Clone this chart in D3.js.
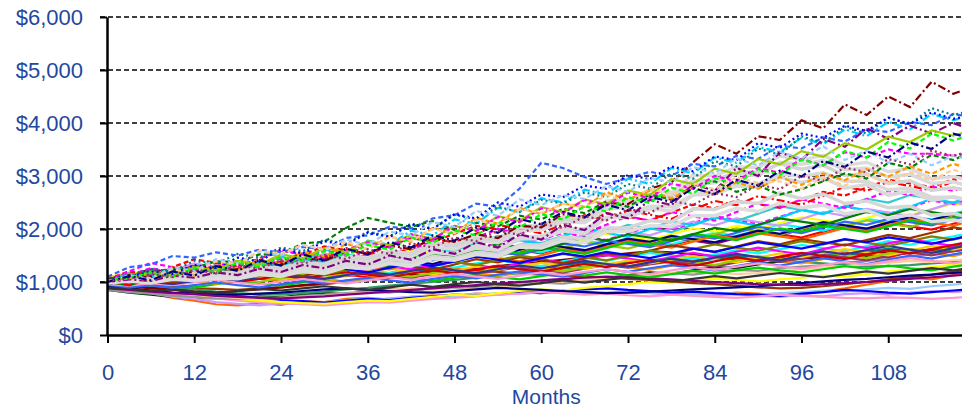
<!DOCTYPE html>
<html><head><meta charset="utf-8">
<script src="https://cdn.jsdelivr.net/npm/d3@7"></script>
<style>body{margin:0;background:#fff}svg{display:block}</style>
</head><body>
<svg id="chart" width="962" height="408"></svg>
<script>
// ---- data ----
const months = [0,3,6,9,12,15,18,21,24,27,30,33,36,39,42,45,48,51,54,57,60,63,66,69,72,75,78,81,84,87,90,93,96,99,102,105,108,111,114,117,120];
const yTicks = [0,1000,2000,3000,4000,5000,6000];
const xTicks = [0,12,24,36,48,60,72,84,96,108];
const xTitle = "Months";

// low paths
const A01 = [900,840,790,700,650,580,560,600,570,640,620,680,700,670,720,750,730,780,760,800,820,790,810,780,800,830,790,770,760,800,780,750,770,820,880,950,1020,1080,1050,1130,1180];
const A02 = [850,800,760,720,690,700,680,730,710,760,790,770,820,860,840,890,930,910,960,1000,980,1040,1090,1070,1130,1180,1160,1220,1280,1260,1330,1390,1370,1440,1500,1480,1550,1610,1590,1660,1720];
const A03 = [900,850,790,720,680,620,590,560,600,580,620,650,640,690,720,700,750,780,760,800,790,820,800,780,810,790,760,780,750,770,740,720,750,730,770,790,760,800,830,810,840];
const A04 = [950,900,860,800,760,700,660,620,600,630,610,660,690,670,720,740,720,760,790,770,810,790,770,800,830,810,790,770,800,780,760,790,810,840,820,860,890,870,920,950,980];
const A05 = [980,940,890,860,800,780,730,700,660,640,610,650,680,660,700,730,760,740,780,810,790,840,860,880,850,830,800,820,790,770,760,740,780,810,850,830,800,780,810,840,870];
const A06 = [880,830,800,760,720,690,650,620,600,580,560,590,620,610,650,680,700,730,760,780,810,790,760,780,750,730,760,740,720,700,730,760,740,720,700,690,710,700,680,700,730];
const A07 = [920,880,850,800,760,720,680,650,620,600,590,620,650,640,680,720,760,740,790,830,860,840,890,920,960,1000,980,1030,1060,1040,1010,1050,1080,1120,1100,1150,1200,1240,1280,1330,1380];
const A08 = [850,810,780,740,720,690,680,710,700,740,760,790,820,800,850,870,900,890,930,960,990,970,1020,1050,1090,1120,1160,1140,1190,1230,1210,1260,1290,1320,1360,1400,1440,1480,1530,1580,1630];
const A09 = [1000,970,930,910,880,870,850,880,900,930,960,1000,1030,1080,1110,1150,1180,1210,1190,1160,1140,1120,1100,1090,1060,1040,1010,980,960,930,900,880,890,920,960,1000,1050,1090,1140,1200,1250];
const A10 = [1000,960,930,890,860,820,790,770,760,790,820,860,890,930,970,1000,1040,1080,1120,1170,1210,1250,1290,1330,1370,1410,1450,1480,1500,1470,1440,1400,1380,1350,1320,1290,1300,1320,1350,1380,1410];
const A11 = [930,890,850,800,760,730,700,680,700,720,740,770,800,850,880,860,840,870,900,940,980,1010,1050,1080,1110,1140,1170,1200,1180,1150,1170,1200,1240,1270,1300,1330,1360,1400,1380,1410,1440];
const A12 = [920,880,840,800,790,770,760,780,800,830,860,880,850,830,810,800,830,860,890,870,850,830,810,790,800,820,840,860,880,900,920,950,980,1010,1040,1060,1090,1120,1140,1170,1200];
const A13 = [950,920,880,860,820,800,830,860,900,940,980,1020,1060,1100,1140,1180,1220,1260,1300,1340,1380,1420,1460,1500,1540,1580,1560,1520,1490,1460,1430,1410,1440,1470,1500,1530,1560,1540,1570,1600,1630];
const A14 = [880,850,820,790,770,740,720,700,690,710,730,760,790,820,850,880,910,940,970,1000,1030,1060,1080,1100,1090,1070,1050,1020,1000,980,960,950,940,960,980,1000,1030,1060,1090,1120,1150];

// lower-middle paths
const B01 = [940,1010,960,990,1070,1030,1100,1060,1020,1110,1180,1140,1090,1170,1240,1200,1260,1220,1310,1270,1230,1320,1380,1330,1290,1370,1440,1400,1470,1420,1380,1460,1530,1480,1550,1510,1470,1560,1620,1580,1650];
const B02 = [970,930,990,950,900,960,1010,970,930,990,1050,1000,1060,1110,1060,1020,1080,1140,1090,1050,1110,1170,1120,1180,1130,1090,1150,1210,1160,1220,1270,1220,1180,1240,1300,1250,1310,1260,1220,1290,1350];
const B03 = [1000,1040,990,950,1010,1070,1020,1080,1140,1090,1050,1120,1180,1130,1200,1250,1200,1160,1230,1300,1250,1320,1380,1330,1280,1350,1420,1370,1440,1500,1450,1400,1480,1550,1500,1570,1630,1580,1530,1620,1690];
const B04 = [1060,1100,1040,1110,1170,1110,1060,1140,1200,1150,1230,1290,1230,1170,1260,1330,1270,1350,1410,1350,1300,1390,1460,1400,1480,1550,1490,1430,1520,1600,1540,1620,1700,1640,1580,1680,1770,1700,1790,1860,1950];
const B05 = [1050,1090,1150,1090,1040,1120,1180,1120,1200,1260,1190,1140,1230,1300,1240,1320,1380,1320,1260,1350,1430,1360,1440,1510,1440,1380,1470,1550,1480,1570,1650,1580,1520,1620,1710,1640,1730,1810,1740,1680,1780];
const B06 = [990,960,1010,1060,1010,970,1030,1090,1040,1100,1060,1010,1080,1140,1090,1160,1220,1170,1120,1190,1260,1200,1270,1330,1280,1230,1310,1380,1320,1400,1460,1400,1350,1430,1510,1450,1530,1600,1540,1490,1580];
const B07 = [900,870,830,860,820,790,830,870,840,880,920,880,850,900,950,910,960,1000,960,930,980,1030,990,1040,1090,1050,1010,1060,1110,1070,1120,1170,1130,1090,1150,1200,1160,1210,1260,1220,1280];
const B08 = [1000,1050,1100,1050,1010,1070,1130,1080,1040,1100,1160,1110,1170,1120,1080,1150,1210,1160,1220,1280,1230,1180,1250,1320,1270,1330,1390,1340,1290,1370,1440,1380,1450,1510,1460,1410,1490,1560,1500,1580,1650];
const B09 = [950,900,940,890,940,990,940,900,960,1020,970,1030,1080,1030,990,1060,1120,1070,1140,1200,1150,1100,1170,1240,1190,1260,1320,1270,1220,1300,1370,1310,1380,1450,1390,1340,1420,1500,1440,1520,1590];
const B10 = [1000,1060,1020,1070,1030,1080,1130,1080,1040,1110,1170,1120,1190,1250,1190,1140,1220,1290,1230,1300,1360,1300,1250,1330,1410,1350,1420,1490,1430,1370,1460,1540,1470,1550,1620,1560,1500,1590,1680,1610,1700];
const B11 = [1020,980,1030,1080,1030,1090,1040,1000,1070,1130,1080,1140,1200,1150,1100,1170,1240,1180,1250,1310,1250,1200,1280,1350,1290,1370,1440,1380,1320,1410,1490,1420,1500,1570,1510,1450,1540,1620,1560,1640,1720];
const B12 = [980,1020,1070,1030,1080,1040,1000,1060,1120,1070,1130,1190,1140,1090,1160,1220,1170,1240,1300,1240,1190,1270,1340,1280,1350,1420,1360,1300,1390,1470,1400,1480,1550,1490,1430,1520,1600,1540,1620,1700,1780];
const B13 = [960,930,980,940,990,1040,990,950,1010,1060,1010,970,1030,1090,1040,1100,1150,1100,1060,1120,1180,1130,1190,1240,1190,1150,1220,1280,1230,1290,1350,1300,1250,1320,1380,1330,1390,1450,1400,1350,1420];
const B14 = [990,1040,1000,960,1020,1080,1030,1090,1150,1100,1060,1130,1190,1140,1210,1270,1220,1170,1240,1310,1260,1330,1400,1340,1290,1370,1440,1380,1460,1530,1470,1410,1500,1580,1520,1600,1680,1610,1550,1640,1720];

// middle paths
const C01 = [1040,1150,1090,1200,1310,1250,1190,1300,1240,1350,1460,1400,1510,1450,1390,1500,1610,1550,1660,1600,1540,1650,1760,1700,1810,1750,1690,1800,1910,1850,1960,1900,1840,1950,2060,2000,2110,2050,1990,2100,2210];
const C02 = [1060,1000,1110,1220,1160,1270,1210,1150,1260,1370,1310,1420,1360,1300,1410,1520,1460,1570,1680,1620,1560,1670,1780,1720,1830,1770,1710,1820,1930,1870,1980,2090,2030,1970,2080,2190,2130,2240,2180,2290,2400];
const C03 = [1020,1130,1240,1180,1120,1230,1170,1280,1390,1330,1270,1380,1490,1430,1540,1480,1420,1530,1640,1580,1690,1630,1570,1680,1790,1730,1840,1780,1720,1830,1940,1880,1990,2100,2040,1980,2090,2200,2140,2250,2190];
const C04 = [1080,1190,1130,1240,1180,1290,1400,1340,1280,1390,1500,1440,1380,1490,1600,1540,1650,1590,1530,1640,1750,1690,1800,1910,1850,1790,1900,2010,1950,2060,2000,2110,2220,2160,2100,2210,2320,2260,2370,2480,2420];
const C05 = [1030,970,1080,1190,1130,1070,1180,1290,1230,1340,1280,1220,1330,1440,1380,1490,1600,1540,1480,1590,1700,1640,1750,1690,1630,1740,1850,1790,1900,2010,1950,1890,2000,2110,2050,2160,2100,2040,2150,2260,2370];
const C06 = [1050,1160,1100,1040,1150,1260,1200,1310,1250,1190,1300,1410,1350,1460,1400,1340,1450,1560,1500,1610,1720,1660,1600,1710,1820,1760,1870,1810,1750,1860,1970,1910,2020,2130,2070,2010,2120,2230,2170,2280,2220];
const C07 = [1000,1130,1260,1190,1120,1250,1380,1310,1440,1370,1300,1430,1560,1490,1620,1750,1680,1610,1740,1870,1800,1930,1860,1790,1920,2050,1980,2110,2240,2170,2100,2230,2360,2290,2420,2350,2280,2410,2540,2470,2600];
const C08 = [950,1060,1000,1110,1220,1160,1100,1210,1320,1260,1370,1310,1250,1360,1470,1410,1520,1630,1570,1510,1620,1730,1670,1780,1720,1660,1770,1880,1820,1930,2040,1980,1920,2030,2140,2080,2190,2130,2070,2180,2290];
const C09 = [1000,940,1050,1160,1100,1210,1150,1090,1200,1310,1250,1360,1300,1240,1350,1460,1400,1510,1450,1390,1500,1610,1550,1660,1770,1710,1650,1760,1870,1810,1920,1860,1800,1910,2020,1960,2070,2180,2120,2060,2170];
const C10 = [980,1090,1200,1140,1250,1190,1130,1240,1350,1290,1400,1340,1280,1390,1500,1440,1380,1490,1600,1540,1650,1590,1530,1640,1750,1690,1800,1910,1850,1790,1900,2010,1950,2060,2000,1940,2050,2160,2100,2210,2320];
const C11 = [1030,1160,1090,1220,1350,1280,1210,1340,1470,1400,1530,1460,1390,1520,1650,1580,1710,1640,1570,1700,1830,1760,1890,2020,1950,1880,2010,2140,2070,2200,2130,2060,2190,2320,2250,2380,2310,2240,2370,2500,2430];
const C12 = [1030,960,1100,1240,1170,1310,1240,1170,1310,1450,1380,1520,1450,1380,1520,1660,1590,1730,1870,1800,1730,1870,2010,1940,2080,2010,1940,2080,2220,2150,2290,2430,2360,2290,2430,2570,2500,2640,2570,2500,2640];
const C13 = [1050,1200,1130,1280,1430,1360,1290,1440,1590,1520,1670,1600,1530,1680,1830,1760,1910,2060,1990,1920,2070,2220,2150,2300,2230,2160,2310,2460,2390,2540,2470,2400,2550,2700,2630,2780,2930,2860,2790,2940,3090];
const C14 = [1000,1100,1050,990,1090,1190,1130,1230,1170,1110,1210,1310,1250,1350,1290,1230,1330,1430,1370,1470,1410,1350,1450,1550,1490,1590,1690,1630,1570,1670,1770,1710,1810,1750,1690,1790,1890,1830,1930,2030,1970];

// further middle paths
const F01 = [1010,1160,1080,1230,1150,1070,1220,1370,1290,1440,1360,1280,1430,1580,1500,1650,1570,1490,1640,1790,1710,1860,2010,1930,1850,2000,2150,2070,2220,2140,2060,2210,2360,2280,2430,2350,2270,2420,2570,2490,2640];
const F02 = [1000,940,1060,1180,1120,1240,1180,1120,1240,1360,1300,1420,1360,1300,1420,1540,1480,1600,1720,1660,1600,1720,1840,1780,1900,1840,1780,1900,2020,1960,2080,2200,2140,2080,2200,2320,2260,2380,2320,2260,2380];
const F03 = [1040,1200,1360,1280,1200,1360,1280,1440,1600,1520,1440,1600,1760,1680,1840,1760,1680,1840,2000,1920,2080,2000,1920,2080,2240,2160,2320,2240,2160,2320,2480,2400,2560,2480,2400,2560,2720,2640,2800,2720,2880];
const F04 = [990,1080,1170,1110,1050,1140,1230,1170,1260,1200,1140,1230,1320,1260,1350,1440,1380,1320,1410,1500,1440,1530,1470,1410,1500,1590,1530,1620,1710,1650,1590,1680,1770,1710,1800,1740,1680,1770,1860,1800,1890];
const F05 = [1020,940,1110,1280,1200,1370,1290,1210,1380,1550,1470,1640,1560,1480,1650,1820,1740,1910,2080,2000,1920,2090,2260,2180,2350,2270,2190,2360,2530,2450,2620,2540,2460,2630,2800,2720,2890,2810,2730,2900,3070];
const F06 = [1000,1090,1030,1120,1210,1150,1090,1180,1270,1210,1300,1240,1180,1270,1360,1300,1390,1480,1420,1360,1450,1540,1480,1570,1510,1450,1540,1630,1570,1660,1750,1690,1630,1720,1810,1750,1840,1780,1720,1810,1900];

// light grey paths
const D01 = [1000,1050,1000,1080,1060,1120,1090,1190,1170,1270,1230,1340,1330,1440,1400,1560,1540,1690,1640,1830,1870,2010,2000,2220,2280,2430,2420,2650,2720,2860,2850,3040,2990,3060,2900,2900,2740,2770,2600,2600,2500];
const D02 = [1010,1060,1020,1100,1090,1150,1140,1230,1220,1310,1280,1400,1390,1510,1480,1650,1620,1790,1740,1960,1980,2140,2120,2370,2420,2600,2560,2830,2870,3040,3000,3260,3220,3290,3120,3150,2980,3030,2860,2890,2780];
const D03 = [990,1030,990,1060,1040,1090,1070,1160,1130,1210,1180,1290,1280,1370,1340,1480,1450,1560,1520,1700,1700,1850,1810,2020,2020,2160,2130,2380,2370,2520,2480,2680,2570,2660,2480,2530,2400,2430,2260,2290,2200];
const D04 = [1020,1070,1030,1130,1110,1190,1170,1280,1260,1350,1330,1480,1460,1580,1540,1730,1700,1860,1820,2050,2070,2230,2210,2530,2540,2730,2690,3020,3000,3170,3160,3380,3300,3390,3200,3260,3080,3140,2950,2990,2900];
const D05 = [1000,1040,1000,1080,1070,1110,1100,1190,1160,1250,1220,1360,1330,1440,1400,1560,1520,1640,1600,1810,1830,1960,1920,2210,2220,2380,2340,2640,2660,2810,2790,2980,2880,2970,2770,2840,2640,2710,2540,2610,2520];
const D06 = [1030,1080,1040,1130,1120,1180,1180,1290,1260,1370,1330,1460,1440,1550,1530,1720,1690,1820,1800,2030,2030,2190,2170,2450,2480,2630,2620,2910,2920,3070,3070,3230,3130,3200,3010,3040,2860,2910,2730,2780,2700];
const D07 = [980,1020,980,1050,1030,1070,1060,1140,1110,1200,1160,1280,1250,1350,1300,1440,1410,1520,1480,1660,1640,1780,1740,1950,1960,2060,2050,2250,2250,2390,2330,2490,2400,2450,2290,2350,2200,2270,2140,2170,2100];

// upper paths
const E01 = [1050,1130,1100,1240,1190,1290,1240,1380,1330,1460,1400,1570,1550,1690,1620,1820,1760,1900,1830,2060,2030,2280,2220,2490,2470,2760,2880,3260,3600,3420,3750,3680,4050,3900,4350,4150,4500,4300,4780,4550,4700];
const E02 = [1100,1280,1330,1490,1460,1560,1500,1610,1560,1660,1620,1830,1880,2040,2010,2200,2260,2480,2420,2760,3250,3150,2980,2850,2960,3080,3000,3230,3180,3380,3320,3570,3520,3730,3650,3880,3830,4020,3960,4170,4100];
const E03 = [1020,1110,1140,1260,1260,1390,1380,1520,1520,1730,1760,2020,2210,2120,2040,2150,1980,2120,2050,2250,2180,2380,2300,2520,2420,2650,2560,2800,2900,2700,2820,2650,2750,2900,3050,2950,3250,3150,3400,3300,3500];
const E04 = [1000,1060,1160,1120,1270,1200,1380,1310,1490,1410,1610,1550,1780,1700,1970,1880,2180,2100,2400,2320,2580,2500,2740,2650,2950,2850,3150,3050,3350,3250,3550,3450,3720,3600,3880,3750,4020,3880,4170,4050,4180];
const E05 = [1060,1110,1250,1200,1400,1350,1530,1460,1650,1580,1800,1720,1950,1860,2100,2010,2270,2180,2420,2320,2550,2480,2690,2600,2850,2760,3050,2950,3280,3180,3520,3400,3750,3620,3930,3800,4100,3980,4280,4150,4250];
const E06 = [1000,1050,1020,1120,1080,1180,1130,1250,1190,1320,1260,1400,1330,1500,1420,1620,1530,1750,1650,1900,1800,2080,1980,2300,2200,2550,2450,2850,2720,3150,3000,3450,3300,3700,3550,3900,3700,3950,3800,4000,3850];
const E07 = [1030,1070,1180,1120,1290,1230,1400,1330,1520,1450,1640,1560,1770,1690,1900,1820,2060,1970,2240,2150,2410,2320,2560,2470,2730,2640,2940,2850,3140,3040,3320,3220,3470,3360,3620,3500,3740,3640,3860,3760,3880];
const E08 = [1000,1090,1030,1190,1120,1300,1220,1430,1340,1570,1480,1720,1620,1860,1760,2020,1920,2210,2100,2400,2280,2480,2420,2690,2560,2720,2580,2780,2650,2880,2760,2980,2830,3050,2920,3130,2990,3180,3040,3230,3100];
const E09 = [1040,1090,1200,1150,1320,1260,1460,1390,1620,1540,1770,1700,1930,1850,2090,2000,2280,2200,2500,2420,2650,2600,2820,2760,3020,2940,3180,3090,3370,3300,3620,3530,3800,3720,3950,3850,4100,3980,4200,4080,4150];
const E10 = [1010,1060,1160,1100,1250,1180,1350,1270,1460,1380,1600,1500,1750,1650,1900,1800,2060,1960,2230,2130,2390,2300,2550,2440,2690,2580,2860,2760,3000,2900,3150,3060,3320,3200,3450,3350,3500,3420,3420,3380,3450];
const E11 = [1000,1130,1070,1280,1210,1430,1350,1580,1500,1700,1620,1800,1700,1950,1880,2130,2040,2340,2250,2560,2450,2640,2570,2810,2700,2970,2880,3170,3050,3330,3200,3460,3330,3560,3300,3480,3250,3420,3200,3380,3280];
const E12 = [980,1090,1040,1240,1170,1390,1330,1590,1540,1700,1600,1760,1620,1840,1780,2000,1920,2170,2090,2380,2300,2480,2400,2640,2520,2760,2650,2860,2750,2980,2870,2900,2760,2970,2820,3020,2870,3070,2920,3120,2980];
const H01 = [1030,1080,1170,1100,1260,1180,1360,1280,1470,1390,1580,1500,1700,1610,1840,1740,1970,1880,2130,2030,2280,2180,2430,2330,2600,2490,2780,2670,2960,2850,3130,3020,3310,3200,3470,3350,3640,3520,3800,3670,3800];
const H02 = [1000,1110,1030,1200,1120,1300,1210,1410,1310,1520,1410,1630,1520,1750,1650,1880,1780,2030,1930,2190,2090,2320,2220,2460,2350,2610,2510,2770,2660,2930,2820,3100,2990,3280,3170,3460,3350,3630,3510,3800,3690];
const H03 = [1020,1060,1150,1090,1230,1160,1320,1250,1410,1330,1510,1430,1620,1530,1730,1650,1840,1770,1970,1890,2100,2020,2240,2160,2380,2300,2530,2450,2680,2600,2840,2750,3000,2910,3160,3070,3320,3220,3480,3380,3500];

// draw order
const seriesList = [A01,A02,A03,A04,A05,A06,A07,A08,A09,A10,A11,A12,A13,A14,
  B01,B02,B03,B04,B05,B06,B07,B08,B09,B10,B11,B12,B13,B14,
  C01,C02,C03,C04,C05,C06,C07,C08,C09,C10,C11,C12,C13,C14,
  F01,F02,F03,F04,F05,F06,
  D01,D02,D03,D04,D05,D06,D07,
  E01,E02,E03,E04,E05,E06,E07,E08,E09,E10,E11,E12,H01,H02,H03];

// ---- styles (kept apart from the data) ----
const seriesColors = [
  "#FF6600","#003300","#CC99FF","#99CCFF","#0000FF","#FF99CC","#FFFF00","#969696","#993300","#339966","#FFCC99","#000080","#800000","#800080",
  "#FF0000","#00CC00","#008080","#00FFFF","#FF00FF","#FF9900","#333333","#993366","#3366FF","#FFCC00","#99CC00","#CC0000","#FF99CC","#333399",
  "#FF0000","#00FFFF","#800080","#FFFF00","#99CC00","#000080","#FF00FF","#3366FF","#FF6600","#00CC00","#CC99FF","#33CCCC","#FF0000","#993300",
  "#00CCFF","#008000","#FF00FF","#808000","#FF0000","#0000FF",
  "#D9D9D9","#DADADA","#D6D6D6","#DCDCDC","#D9D9D9","#D4D4D4","#DDDDDD",
  "#800000","#3366FF","#008000","#00CCFF","#008080","#800080","#99CC00","#FF9900","#0000FF","#FF00FF","#99CCFF","#FFCC99",
  "#00FF00","#000080","#993366"];
const seriesDash = [
  "","","","","","","","","","","","","","",
  "","","","","","","","","","","","","","",
  "","","","","","","5,3","","","","","","5,3","",
  "","","5,3","","8,3,2,3","",
  "","","","","","","",
  "8,3,2,3","5,3","5,3","8,3,2,3","2,3","8,3,2,3","","5,3","2,3","5,3","5,3","5,3",
  "5,3","8,3,2,3","2,3"];
const seriesWidth = seriesColors.map(c => c.startsWith("#D") ? 3.5 : 2.2);

// ---- chart ----
const svg = d3.select("#chart");
const W = 962, H = 408;
const x = d3.scaleLinear().domain([0,120]).range([107.5, 975]);
const y = d3.scaleLinear().domain([0,6000]).range([335, 17]);
const textColor = "#1f48a0";
const font = "'Liberation Sans', Arial, Helvetica, sans-serif";

svg.append("rect").attr("width",W).attr("height",H).attr("fill","#fff");

svg.append("g").selectAll("line").data(yTicks.filter(d => d > 0)).join("line")
  .attr("x1", 100).attr("x2", W)
  .attr("y1", d => y(d)).attr("y2", d => y(d))
  .attr("stroke", "#000").attr("stroke-width", 1.5).attr("stroke-dasharray", "5,3");

svg.append("clipPath").attr("id","plotclip").append("rect")
  .attr("x", 107).attr("y", 0).attr("width", W - 107).attr("height", 335);

const line = d3.line().x((d,i) => x(months[i])).y(d => y(d));
svg.append("g").attr("clip-path","url(#plotclip)")
  .selectAll("path").data(seriesList).join("path")
  .attr("d", d => line(d))
  .attr("fill","none")
  .attr("stroke", (d,i) => seriesColors[i])
  .attr("stroke-width", (d,i) => seriesWidth[i])
  .attr("stroke-dasharray", (d,i) => seriesDash[i] || null);

const yAxis = d3.axisLeft(y).tickValues(yTicks).tickSize(7).tickSizeOuter(0).tickPadding(17)
  .tickFormat(d => "$" + d3.format(",")(d));
const gy = svg.append("g").attr("transform","translate(107,0)").call(yAxis);
gy.select(".domain").attr("stroke","#000").attr("stroke-width",2.5);
gy.selectAll(".tick line").attr("stroke","#000").attr("stroke-width",2);
gy.selectAll(".tick text").attr("fill",textColor).attr("font-size",22).attr("font-family",font).attr("dy","0.36em");

const xAxis = d3.axisBottom(x).tickValues(xTicks).tickSize(8).tickSizeOuter(0).tickPadding(21);
const gx = svg.append("g").attr("transform","translate(0,335)").call(xAxis);
gx.select(".domain").attr("stroke","#000").attr("stroke-width",2.5);
gx.selectAll(".tick line").attr("stroke","#000").attr("stroke-width",2);
gx.selectAll(".tick text").attr("fill",textColor).attr("font-size",22).attr("font-family",font);

svg.append("text").attr("x", x(60) + 5).attr("y", 403.5)
  .attr("text-anchor","middle").attr("fill",textColor)
  .attr("font-size",21).attr("font-family",font).text(xTitle);
</script>
</body></html>
